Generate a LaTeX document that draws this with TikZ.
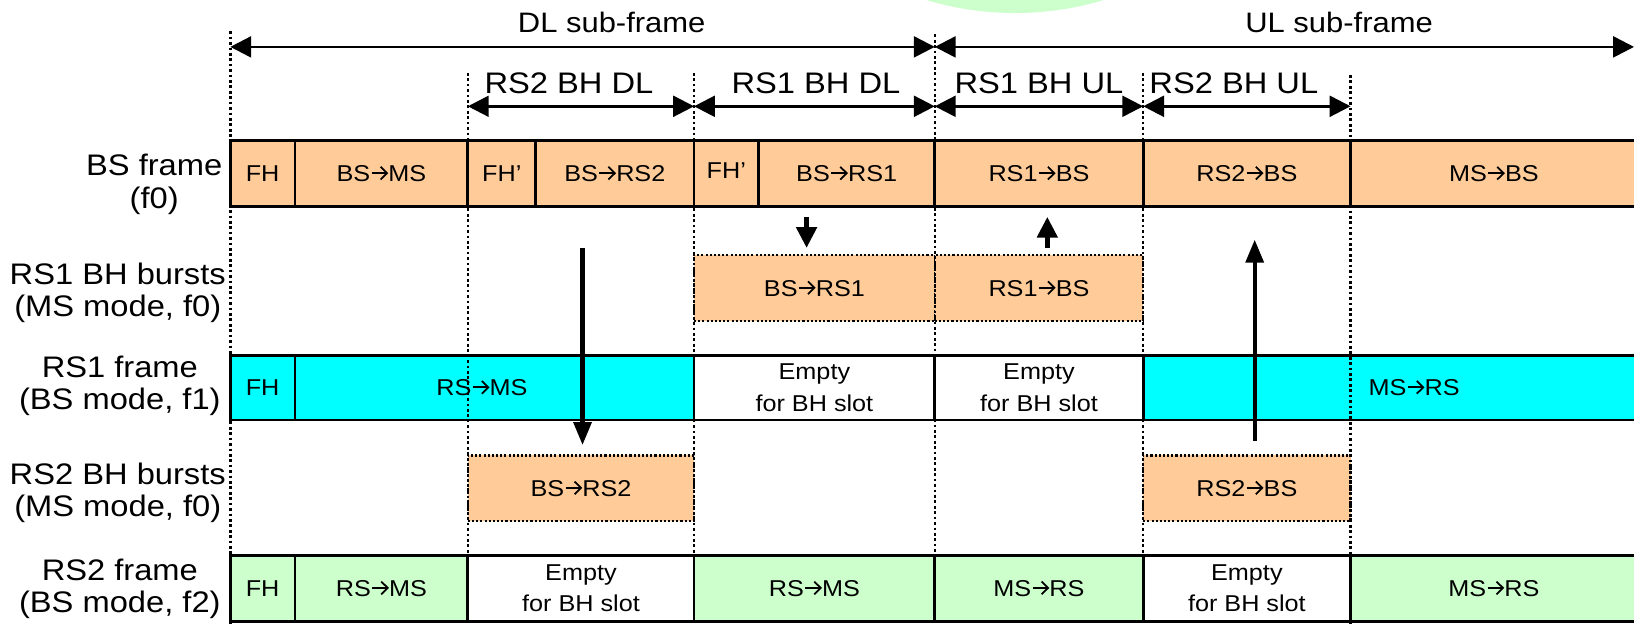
\documentclass[tikz,border=0pt]{standalone}
\usepackage{fontspec}
\setmainfont[FakeStretch=1.1]{Liberation Sans}
\usetikzlibrary{arrows.meta}

\definecolor{orangefill}{HTML}{FFCC99}
\definecolor{cyanfill}{HTML}{00FFFF}
\definecolor{greenfill}{HTML}{CCFFCC}

\newcommand\cellfont{\fontsize{22}{30}\selectfont}
\newcommand\labelfont{\fontsize{28.5}{31}\selectfont}
\newcommand\spanfont{\fontsize{27}{31}\selectfont}
\newcommand\bhfont{\fontsize{28.5}{31}\selectfont}
% direction arrow used inside the slot texts (open chevron head, cap height)
\newcommand\toward{\hspace{0.5pt}\tikz[baseline=0pt, x=1pt, y=1pt]{%
  \draw[line width=1.7pt] (0,7.9) -- (14.2,7.9);
  \draw[line width=1.7pt, line join=miter] (8.6,14) -- (14.8,7.9) -- (8.6,1.8);}\hspace{0.5pt}}

% one slot of a frame row: name, left x, right x, top y, bottom y, style, text
\newcommand\slotcell[7]{%
  \node[#6, minimum width={#3-#2}, minimum height={#5-#4}] (#1) at ({(#2+#3)/2},{(#4+#5)/2}) {#7};}

\begin{document}
\begin{tikzpicture}[x=1pt, y=-1pt,
  cell/.style={draw=black, line width=2.7pt, inner sep=0pt, outer sep=0pt,
    font=\cellfont, align=center},
  orangecell/.style={cell, fill=orangefill},
  cyancell/.style={cell, fill=cyanfill},
  greencell/.style={cell, fill=greenfill},
  emptycell/.style={cell, fill=white},
  burst/.style={draw=black, line width=2.2pt, dash pattern=on 2pt off 2pt,
    fill=orangefill, inner sep=0pt, outer sep=0pt, font=\cellfont},
  guide/.style={line width=2.4pt, dash pattern=on 2.6pt off 2.6pt},
  span/.style={line width=2.5pt,
    {Triangle[length=20pt,width=20pt]}-{Triangle[length=20pt,width=20pt]}},
  shortarrow/.style={line width=5pt, -{Triangle[length=20pt,width=19pt]}},
  longarrow/.style={line width=4pt, -{Triangle[length=22pt,width=17pt]}},
  rowlabel/.style={font=\labelfont, align=center, inner sep=0pt},
  toplabel/.style={font=\spanfont, inner sep=0pt},
  bhlabel/.style={font=\bhfont, inner sep=0pt}]

\useasboundingbox (0,0) rectangle (1568,599);
\clip (0,0) rectangle (1568,599);

% pale green disc peeking in at the top edge
\fill[greenfill] (974,-282.5) circle[radius=295pt];

% ---- BS frame (f0)
\slotcell{bsfh}{221}{283}{135}{198}{orangecell}{FH}
\slotcell{bsms}{283}{449}{135}{198}{orangecell}{BS\toward MS}
\slotcell{bsfhb}{449}{514}{135}{198}{orangecell}{FH’}
\slotcell{bsrstwo}{514}{666}{135}{198}{orangecell}{BS\toward RS2}
\slotcell{bsfhc}{666}{728}{135}{198}{orangecell}{\raisebox{6pt}{FH’}}
\slotcell{bsrsone}{728}{897}{135}{198}{orangecell}{BS\toward RS1}
\slotcell{rsonebs}{897}{1097}{135}{198}{orangecell}{RS1\toward BS}
\slotcell{rstwobs}{1097}{1296}{135}{198}{orangecell}{RS2\toward BS}
\slotcell{msbs}{1296}{1571}{135}{198}{orangecell}{MS\toward BS}

% ---- RS1 backhaul bursts
\slotcell{bhonedl}{666}{897}{245}{308}{burst}{BS\toward RS1}
\slotcell{bhoneul}{897}{1097}{245}{308}{burst}{RS1\toward BS}

% ---- RS1 frame (f1)
\slotcell{onefh}{221}{283}{341}{403}{cyancell}{FH}
\slotcell{onedl}{283}{666}{341}{403}{cyancell}{\hspace*{-24pt}RS\toward MS}
\slotcell{oneea}{666}{897}{341}{403}{emptycell}{Empty\\for BH slot}
\slotcell{oneeb}{897}{1097}{341}{403}{emptycell}{Empty\\for BH slot}
\slotcell{oneul}{1097}{1571}{341}{403}{cyancell}{\hspace*{46pt}MS\toward RS}

% ---- RS2 backhaul bursts
\slotcell{bhtwodl}{449}{666}{437}{500}{burst}{BS\toward RS2}
\slotcell{bhtwoul}{1097}{1296}{437}{500}{burst}{RS2\toward BS}

% ---- RS2 frame (f2)
\slotcell{twofh}{221}{283}{533}{596}{greencell}{FH}
\slotcell{twodl}{283}{449}{533}{596}{greencell}{RS\toward MS}
\slotcell{twoea}{449}{666}{533}{596}{emptycell}{Empty\\for BH slot}
\slotcell{twodlb}{666}{897}{533}{596}{greencell}{RS\toward MS}
\slotcell{twoul}{897}{1097}{533}{596}{greencell}{MS\toward RS}
\slotcell{twoeb}{1097}{1296}{533}{596}{emptycell}{Empty\\for BH slot}
\slotcell{twoulb}{1296}{1571}{533}{596}{greencell}{MS\toward RS}

% ---- row labels
\node[rowlabel] (lbsframe) at (148,177) {BS frame\\(f0)};
\node[rowlabel] (lonebursts) at (113,281) {RS1 BH bursts\\(MS mode, f0)};
\node[rowlabel] (loneframe) at (115,370) {RS1 frame\\(BS mode, f1)};
\node[rowlabel] (ltwobursts) at (113,473) {RS2 BH bursts\\(MS mode, f0)};
\node[rowlabel] (ltwoframe) at (115,565) {RS2 frame\\(BS mode, f2)};

% ---- dotted time marks
\draw[guide] (221,30) -- (221,599);
\draw[guide] (449,70) -- (449,599);
\draw[guide] (666,70) -- (666,599);
\draw[guide] (897,33) -- (897,599);
\draw[guide] (1097,70) -- (1097,599);
\draw[guide] (1296,72) -- (1296,599);

% ---- sub-frame spans
\coordinate (dlstart) at (221,45);
\coordinate (dlend) at (897,45);
\coordinate (ulend) at (1568,45);
\draw[span] (dlstart) -- (dlend);
\draw[span] (dlend) -- (ulend);
\node[toplabel] (dltext) at (587,22) {DL sub-frame};
\node[toplabel] (ultext) at (1285,22) {UL sub-frame};

% ---- backhaul spans
\coordinate (bha) at (449,102);
\coordinate (bhb) at (666,102);
\coordinate (bhc) at (897,102);
\coordinate (bhd) at (1097,102);
\coordinate (bhe) at (1296,102);
\draw[span] (bha) -- (bhb);
\draw[span] (bhb) -- (bhc);
\draw[span] (bhc) -- (bhd);
\draw[span] (bhd) -- (bhe);
\node[bhlabel] (twodltext) at (546,80) {RS2 BH DL};
\node[bhlabel] (onedltext) at (783,80) {RS1 BH DL};
\node[bhlabel] (oneultext) at (997,80) {RS1 BH UL};
\node[bhlabel] (twoultext) at (1184,80) {RS2 BH UL};

% ---- transfers between BS frame and backhaul bursts
\coordinate (downa) at (774,208);
\coordinate (downb) at (774,238);
\draw[shortarrow] (downa) -- (downb);
\coordinate (upa) at (1005,238);
\coordinate (upb) at (1005,208);
\draw[shortarrow] (upa) -- (upb);

\coordinate (longdowna) at (559,238);
\coordinate (longdownb) at (559,427);
\draw[longarrow] (longdowna) -- (longdownb);
\coordinate (longupa) at (1204,423);
\coordinate (longupb) at (1204,230);
\draw[longarrow] (longupa) -- (longupb);
\end{tikzpicture}
\end{document}
